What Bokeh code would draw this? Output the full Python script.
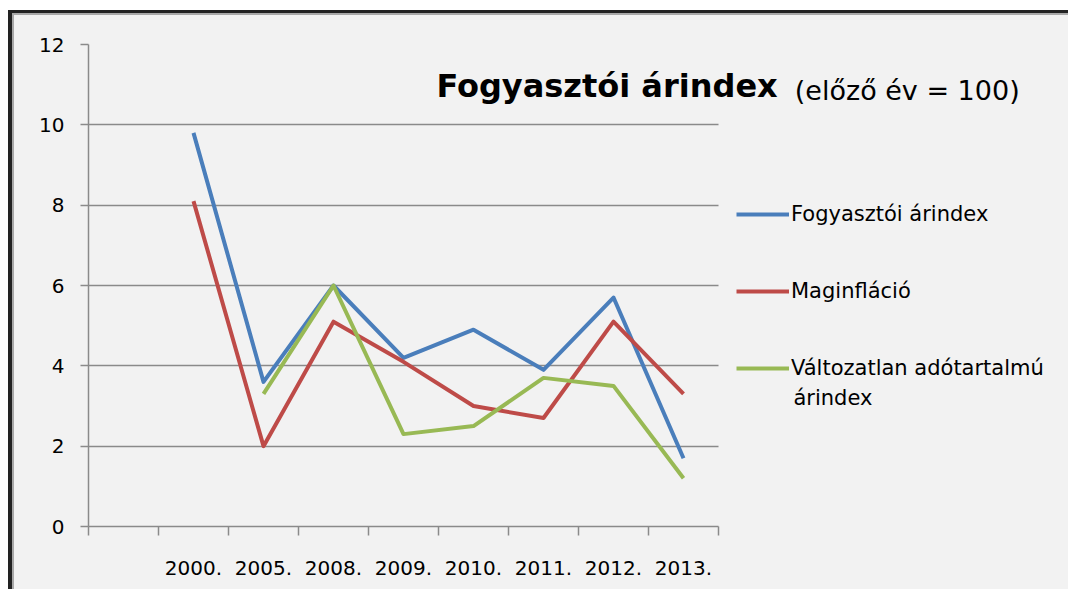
from bokeh.plotting import figure
from bokeh.models import Range1d, FixedTicker, Legend, LegendItem, Label
from bokeh.embed import file_html
from bokeh.resources import INLINE
from bokeh.core.properties import value

nan = float("nan")

# ---- data ----
categories = ["", "2000.", "2005.", "2008.", "2009.", "2010.", "2011.", "2012.", "2013."]
fogyasztoi_arindex = [nan, 9.8, 3.6, 6.0, 4.2, 4.9, 3.9, 5.7, 1.7]
maginflacio = [nan, 8.1, 2.0, 5.1, 4.1, 3.0, 2.7, 5.1, 3.3]
valtozatlan_ado = [nan, nan, 3.3, 6.0, 2.3, 2.5, 3.7, 3.5, 1.2]
series_names = ["Fogyasztói árindex", "Maginfláció", "Változatlan adótartalmú árindex"]
series_colors = ["#4a7ebb", "#be4b48", "#98b954"]
y_ticks = [0, 2, 4, 6, 8, 10, 12]
title_main = "Fogyasztói árindex"
title_sub = "(előző év = 100)"

FONT = "DejaVu Sans"
BG = "#f2f2f2"
GRID = "#8a8a8a"

n_cat = len(categories)
x_centers = [i + 0.5 for i in range(n_cat)]
x_bounds = list(range(n_cat + 1))

FRAME_W = 980
PX_PER_CAT = 70
p = figure(frame_width=FRAME_W, frame_height=482,
           x_range=Range1d(0, FRAME_W / PX_PER_CAT), y_range=Range1d(0, 12),
           output_backend="svg", toolbar_location=None,
           min_border_left=74, min_border_right=0, min_border_top=29, min_border_bottom=63,
           background_fill_color=None, border_fill_color=BG, outline_line_color=None)
p.styles = {"margin-left": "8px", "margin-top": "10px",
            "border-left": "4px solid #222222", "border-top": "3px solid #222222",
            "padding-left": "2px", "padding-top": "2px", "background-color": BG,
            "box-shadow": "inset 2px 2px 0 #a8a8a8"}

# x axis: boundary tick marks (minor), centered labels (major)
xa = p.xaxis[0]
xa.bounds = (0, n_cat)
xa.ticker = FixedTicker(ticks=x_centers, minor_ticks=x_bounds)
xa.major_label_overrides = {x: c for x, c in zip(x_centers, categories)}
xa.major_tick_line_color = None
xa.major_tick_in = 0
xa.major_tick_out = 0
xa.minor_tick_in = 0
xa.minor_tick_out = 9
xa.minor_tick_line_color = GRID
xa.minor_tick_line_width = 1.5
xa.axis_line_color = GRID
xa.axis_line_width = 1.5
xa.major_label_standoff = 25
xa.major_label_text_font = FONT
xa.major_label_text_font_size = "20px"
xa.major_label_text_color = "#000000"

ya = p.yaxis[0]
ya.ticker = FixedTicker(ticks=y_ticks)
ya.major_tick_in = 0
ya.major_tick_out = 8
ya.major_tick_line_color = GRID
ya.major_tick_line_width = 1.5
ya.minor_tick_line_color = None
ya.axis_line_color = GRID
ya.axis_line_width = 1.5
ya.major_label_standoff = 16
ya.major_label_text_font = FONT
ya.major_label_text_font_size = "20px"
ya.major_label_text_color = "#000000"

p.xgrid.visible = False
p.ygrid.ticker = FixedTicker(ticks=y_ticks)
p.ygrid.cross_bounds = (0, n_cat)
p.ygrid.grid_line_color = GRID
p.ygrid.grid_line_width = 1.5

renderers = []
for vals, color in zip([fogyasztoi_arindex, maginflacio, valtozatlan_ado], series_colors):
    r = p.line(x_centers, vals, line_color=color, line_width=4, line_join="round")
    renderers.append(r)

legend_labels = [series_names[0], series_names[1], "Változatlan adótartalmú"]
legend = Legend(items=[LegendItem(label=value(t), renderers=[r]) for t, r in zip(legend_labels, renderers)],
                location=(648, 144), glyph_width=53, glyph_height=28, label_height=28,
                label_standoff=2, padding=10, spacing=49, margin=0,
                border_line_color=None, background_fill_alpha=0,
                label_text_font=FONT, label_text_font_size="21px", label_text_color="#000000")
p.add_layout(legend)

p.add_layout(Label(x=10.07, y=3.21, text="árindex", text_baseline="middle",
                   text_font=FONT, text_font_size="21px", text_color="#000000"))

p.add_layout(Label(x=4.97, y=10.96, text=title_main, text_baseline="middle",
                   text_font=FONT, text_font_style="bold", text_font_size="32px",
                   text_color="#000000"))
p.add_layout(Label(x=10.09, y=10.85, text=title_sub, text_baseline="middle",
                   text_font=FONT, text_font_size="27px", text_color="#000000"))

open("out.html", "w").write(file_html(p, INLINE))
